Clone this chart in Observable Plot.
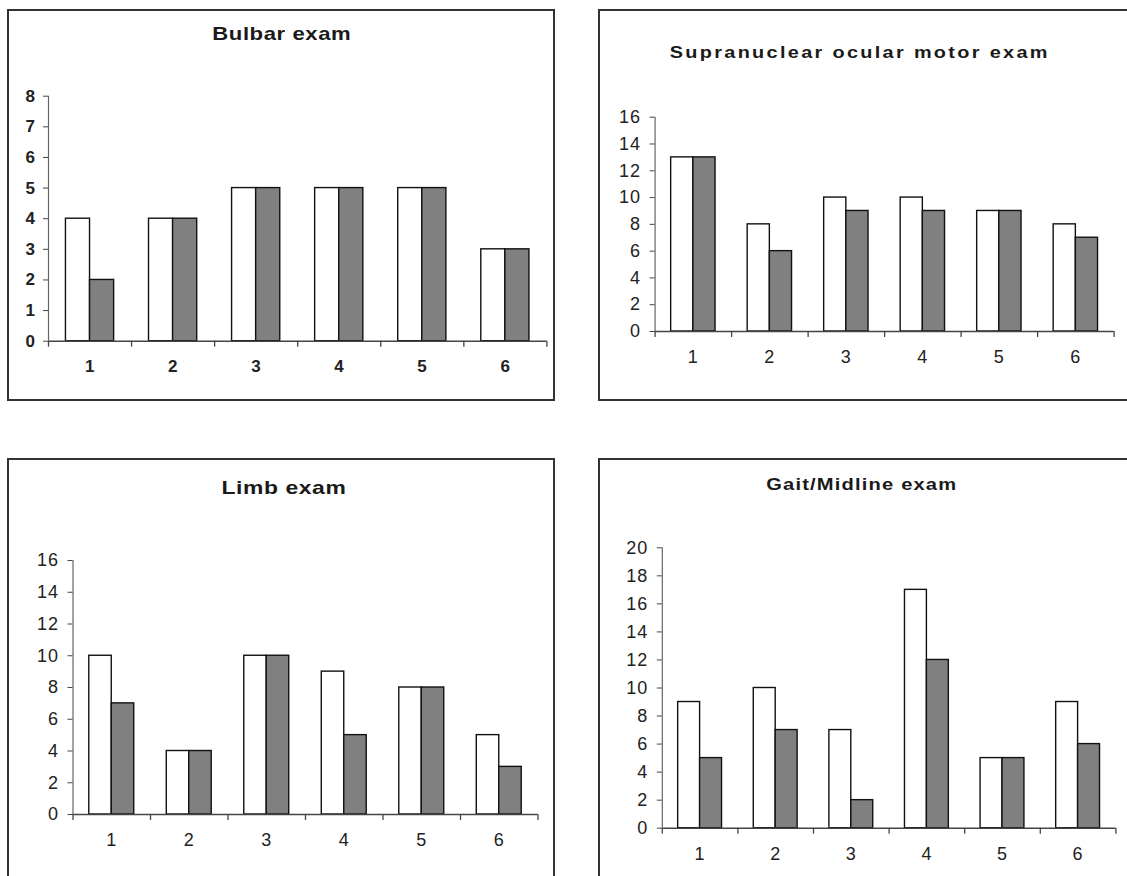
<!DOCTYPE html>
<html><head><meta charset="utf-8">
<script src="https://cdn.jsdelivr.net/npm/d3@7"></script>
<script src="https://cdn.jsdelivr.net/npm/@observablehq/plot@0.6"></script>
<style>
html,body{margin:0;padding:0;width:1127px;height:876px;overflow:hidden;background:#fff;font-family:"Liberation Sans",Arial,sans-serif;}
.frame{position:absolute;border:2px solid #333;box-sizing:border-box;pointer-events:none;}
.title{position:absolute;white-space:nowrap;font-weight:bold;color:#1a1a1a;transform-origin:center center;}
.chart{position:absolute;}
</style></head><body>
<script>
// ---- data ----
const categories = ["1", "2", "3", "4", "5", "6"];
const titles = ["Bulbar exam", "Supranuclear ocular motor exam", "Limb exam", "Gait/Midline exam"];

const bulbarWhite = [4, 4, 5, 5, 5, 3];
const bulbarGrey  = [2, 4, 5, 5, 5, 3];
const bulbarTicks = [0, 1, 2, 3, 4, 5, 6, 7, 8];

const supraWhite = [13, 8, 10, 10, 9, 8];
const supraGrey  = [13, 6, 9, 9, 9, 7];
const supraTicks = [0, 2, 4, 6, 8, 10, 12, 14, 16];

const limbWhite = [10, 4, 10, 9, 8, 5];
const limbGrey  = [7, 4, 10, 5, 8, 3];
const limbTicks = [0, 2, 4, 6, 8, 10, 12, 14, 16];

const gaitWhite = [9, 10, 7, 17, 5, 9];
const gaitGrey  = [5, 7, 2, 12, 5, 6];
const gaitTicks = [0, 2, 4, 6, 8, 10, 12, 14, 16, 18, 20];

// ---- layout (page pixel positions) ----
const layouts = [
  {frame: {l: 8, t: 10, r: 554, b: 400}, ax0: 48, ax1: 546.4, y0: 340.7, yTop: 95.7,
   title: {x: 282, y: 34, size: 19, spacing: 0.5, width: 139},
   tickFont: 17, tickWeight: "bold", tickSpacing: 0.5, yPad: 8},
  {frame: {l: 599, t: 10, r: 1140, b: 400}, ax0: 654.6, ax1: 1113.6, y0: 331, yTop: 116.7,
   title: {x: 860, y: 53, size: 17, spacing: 2, width: 380},
   tickFont: 18, tickWeight: "normal", tickSpacing: 1, yPad: 9},
  {frame: {l: 8, t: 459, r: 554, b: 900}, ax0: 72.5, ax1: 537.5, y0: 814, yTop: 560,
   title: {x: 284, y: 488, size: 19, spacing: 0.5, width: 125},
   tickFont: 18, tickWeight: "normal", tickSpacing: 1, yPad: 9},
  {frame: {l: 599, t: 459, r: 1140, b: 900}, ax0: 661.8, ax1: 1115.4, y0: 827.7, yTop: 547.3,
   title: {x: 862, y: 485, size: 17, spacing: 1, width: 191},
   tickFont: 18, tickWeight: "normal", tickSpacing: 1, yPad: 9}
];

const series = [
  [bulbarWhite, bulbarGrey, bulbarTicks],
  [supraWhite, supraGrey, supraTicks],
  [limbWhite, limbGrey, limbTicks],
  [gaitWhite, gaitGrey, gaitTicks]
];

series.forEach(([white, grey, yTicks], k) => {
  const L = layouts[k];
  const f = L.frame;
  const W = f.r - f.l, H = f.b - f.t;
  const mL = L.ax0 - f.l, mR = f.r - L.ax1, mT = L.yTop - f.t, mB = f.b - L.y0;
  const bw = (W - mL - mR) / categories.length;
  const rows = categories.map((c, i) => ({cat: c, white: white[i], grey: grey[i]}));
  const last = categories[categories.length - 1];

  const chart = Plot.plot({
    width: W, height: H,
    marginLeft: mL, marginRight: mR, marginTop: mT, marginBottom: mB,
    style: {fontSize: L.tickFont + "px", fontFamily: "'Liberation Sans', Arial, sans-serif",
            fontWeight: L.tickWeight, letterSpacing: L.tickSpacing + "px",
            color: "#222", background: "transparent", overflow: "visible"},
    x: {type: "band", domain: categories, padding: 0, round: false},
    y: {domain: [0, yTicks[yTicks.length - 1]]},
    marks: [
      Plot.barY(rows, {x: "cat", y: "white", fill: "white", stroke: "#111", strokeWidth: 1.4,
                       insetLeft: 0.21 * bw, insetRight: 0.5 * bw}),
      Plot.barY(rows, {x: "cat", y: "grey", fill: "#808080", stroke: "#111", strokeWidth: 1.4,
                       insetLeft: 0.5 * bw, insetRight: 0.21 * bw}),
      Plot.ruleY([0], {stroke: "#444", strokeWidth: 1.4}),
      Plot.ruleX([categories[0]], {dx: -bw / 2, stroke: "#666", strokeWidth: 1.2}),
      Plot.ruleX(categories, {x: d => d, y1: 0, y2: 0, insetBottom: -6, dx: -bw / 2, stroke: "#444", strokeWidth: 1.3}),
      Plot.ruleX([last], {x: d => d, y1: 0, y2: 0, insetBottom: -6, dx: bw / 2, stroke: "#444", strokeWidth: 1.3}),
      Plot.axisY(yTicks, {tickSize: 5, tickPadding: L.yPad, stroke: "#444", label: null}),
      Plot.axisX({tickSize: 0, tickPadding: 19, label: null})
    ]
  });
  chart.classList.add("chart");
  chart.style.left = f.l + "px";
  chart.style.top = f.t + "px";
  document.body.appendChild(chart);

  const fr = document.createElement("div");
  fr.className = "frame";
  fr.style.left = (f.l - 1) + "px";
  fr.style.top = (f.t - 1) + "px";
  fr.style.width = (W + 2) + "px";
  fr.style.height = (H + 2) + "px";
  document.body.appendChild(fr);

  const t = document.createElement("div");
  t.className = "title";
  t.textContent = titles[k];
  t.style.fontSize = L.title.size + "px";
  t.style.letterSpacing = L.title.spacing + "px";
  document.body.appendChild(t);
  const natural = t.getBoundingClientRect();
  const sx = L.title.width / natural.width;
  t.style.left = (L.title.x - natural.width / 2) + "px";
  t.style.top = (L.title.y - natural.height / 2) + "px";
  t.style.transform = `scaleX(${sx})`;
});
</script>
</body></html>
